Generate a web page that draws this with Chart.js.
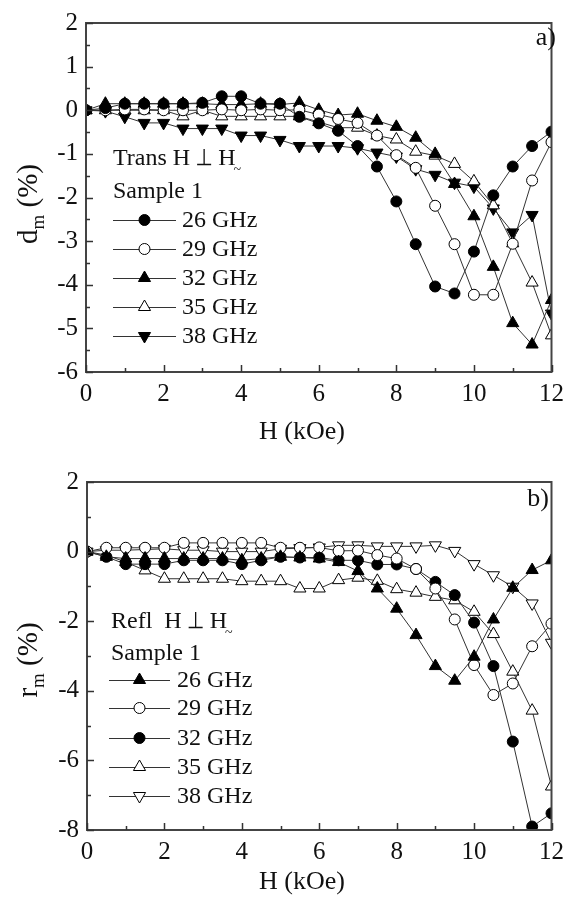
<!DOCTYPE html>
<html>
<head>
<meta charset="utf-8">
<script src="https://cdn.jsdelivr.net/npm/chart.js@4/dist/chart.umd.min.js"></script>
<style>
  html, body { margin: 0; padding: 0; background: #fff; }
  #wrap { position: relative; width: 571px; height: 899px; }
  canvas { position: absolute; left: 0; }
  #chartA { top: 0; }
  #chartB { top: 450px; }
</style>
</head>
<body>
<div id="wrap">
  <canvas id="chartA" width="571" height="450"></canvas>
  <canvas id="chartB" width="571" height="449"></canvas>
</div>
<script>
// field values (kOe), shared by all curves
var fieldH = [0, 0.5, 1, 1.5, 2, 2.5, 3, 3.5, 4, 4.5, 5, 5.5, 6, 6.5, 7, 7.5, 8, 8.5, 9, 9.5, 10, 10.5, 11, 11.5, 12];
var freqLabels = ['26 GHz', '29 GHz', '32 GHz', '35 GHz', '38 GHz'];

// a) transmission d_m (%)
var trans26 = [0, 0.05, 0.15, 0.15, 0.15, 0.15, 0.17, 0.32, 0.32, 0.15, 0.15, -0.15, -0.3, -0.47, -0.82, -1.29, -2.09, -3.07, -4.04, -4.2, -3.24, -1.95, -1.29, -0.82, -0.49];
var trans29 = [0, 0, 0.02, 0.02, 0, 0, 0, 0.02, 0, 0.02, 0, 0.01, -0.1, -0.2, -0.29, -0.58, -1.03, -1.32, -2.19, -3.07, -4.23, -4.23, -3.06, -1.61, -0.73];
var trans32 = [0, 0.15, 0.15, 0.15, 0.15, 0.15, 0.15, 0.13, 0.13, 0.15, 0.13, 0.17, 0.01, -0.11, -0.08, -0.24, -0.38, -0.63, -1.0, -1.69, -2.43, -3.59, -4.88, -5.37, -4.35];
var trans35 = [0, 0, 0, 0, 0, -0.14, 0, -0.14, -0.14, -0.14, -0.14, -0.14, -0.27, -0.4, -0.4, -0.58, -0.67, -0.95, -1.04, -1.23, -1.63, -2.18, -3.05, -3.95, -5.16];
var trans38 = [0, -0.02, -0.15, -0.29, -0.29, -0.42, -0.42, -0.42, -0.58, -0.58, -0.68, -0.82, -0.82, -0.82, -0.87, -0.97, -1.06, -1.35, -1.48, -1.66, -1.75, -2.25, -2.8, -2.4, -4.66];

// b) reflection r_m (%)
var refl26 = [0, -0.15, -0.2, -0.2, -0.2, -0.2, -0.2, -0.2, -0.25, -0.2, -0.15, -0.17, -0.2, -0.3, -0.56, -1.06, -1.64, -2.4, -3.29, -3.71, -3.02, -1.95, -1.04, -0.53, -0.25];
var refl29 = [0, 0.11, 0.11, 0.11, 0.11, 0.25, 0.25, 0.25, 0.25, 0.25, 0.11, 0.11, 0.12, 0.02, 0.03, -0.1, -0.2, -0.5, -1.06, -1.95, -3.26, -4.12, -3.79, -2.72, -2.07];
var refl32 = [0, -0.15, -0.36, -0.36, -0.36, -0.25, -0.25, -0.25, -0.36, -0.25, -0.15, -0.17, -0.17, -0.25, -0.25, -0.37, -0.37, -0.5, -0.87, -1.25, -2.04, -3.29, -5.46, -7.9, -7.52];
var refl35 = [0, -0.1, -0.3, -0.54, -0.78, -0.78, -0.78, -0.78, -0.85, -0.85, -0.85, -1.06, -1.06, -0.82, -0.75, -0.84, -1.08, -1.18, -1.3, -1.4, -1.73, -2.37, -3.45, -4.57, -6.75];
var refl38 = [0, 0.04, 0.04, 0.06, 0.08, 0.04, 0.04, 0, 0, 0, 0.08, 0.1, 0.12, 0.18, 0.18, 0.15, 0.15, 0.15, 0.18, 0.02, -0.36, -0.68, -1.01, -1.49, -2.62];

var SERIF = '"Liberation Serif", "Times New Roman", "DejaVu Serif", serif';
var INK = '#111';
var LINE = '#333';

// marker kinds: filled circle, open circle, filled/open up triangle, down triangle
var markers = {
  dot:   { style: 'circle', r: 5.5, fill: '#000', rot: 0 },
  ring:  { style: 'circle', r: 5.5, fill: '#fff', rot: 0 },
  up:    { style: 'triangle', r: 7, fill: '#000', rot: 0 },
  upo:   { style: 'triangle', r: 7, fill: '#fff', rot: 0 },
  down:  { style: 'triangle', r: 7, fill: '#000', rot: 180 },
  downo: { style: 'triangle', r: 7, fill: '#fff', rot: 180 }
};

function makeSet(label, values, mk) {
  var m = markers[mk];
  var pts = [];
  for (var i = 0; i < fieldH.length; i++) {
    pts.push({ x: fieldH[i], y: values[i] });
  }
  return {
    label: label,
    data: pts,
    borderColor: LINE,
    borderWidth: 1,
    pointStyle: m.style,
    pointRadius: m.r,
    pointRotation: m.rot,
    pointBackgroundColor: m.fill,
    pointBorderColor: '#000',
    pointBorderWidth: 1,
    mk: mk,
    fill: false,
    tension: 0
  };
}

// draw a marker the same way chart.js does (used for the legend)
function drawMarker(ctx, mk, x, y) {
  var m = markers[mk];
  ctx.beginPath();
  if (m.style === 'circle') {
    ctx.arc(x, y, m.r, 0, Math.PI * 2);
  } else {
    var rad = m.rot * Math.PI / 180;
    for (var k = 0; k < 3; k++) {
      var px = x + Math.sin(rad) * m.r;
      var py = y - Math.cos(rad) * m.r;
      if (k === 0) ctx.moveTo(px, py); else ctx.lineTo(px, py);
      rad += Math.PI * 2 / 3;
    }
    ctx.closePath();
  }
  ctx.fillStyle = m.fill;
  ctx.fill();
  ctx.lineWidth = 1;
  ctx.strokeStyle = '#000';
  ctx.stroke();
}

// frame, inward ticks, titles and the in-plot legend
var framePlugin = {
  id: 'frame',
  afterDraw: function (chart) {
    var o = chart.options.plugins.frame;
    var ctx = chart.ctx;
    var a = chart.chartArea;
    var xs = chart.scales.x;
    var ys = chart.scales.y;
    ctx.save();

    // box
    ctx.strokeStyle = '#444';
    ctx.lineWidth = 2;
    ctx.strokeRect(a.left, a.top, a.right - a.left, a.bottom - a.top);

    // ticks on bottom and left, pointing in
    ctx.lineWidth = 1.5;
    ctx.strokeStyle = '#333';
    ctx.beginPath();
    for (var v = xs.min; v <= xs.max + 1e-9; v += 1) {
      var px = Math.round(xs.getPixelForValue(v)) + 0.5;
      var len = (v % 2 === 0) ? 7 : 4;
      ctx.moveTo(px, a.bottom);
      ctx.lineTo(px, a.bottom - len);
    }
    for (var w = ys.min; w <= ys.max + 1e-9; w += o.yMinor) {
      var py = Math.round(ys.getPixelForValue(w)) + 0.5;
      var major = Math.abs(w / o.yMajor - Math.round(w / o.yMajor)) < 1e-6;
      ctx.moveTo(a.left, py);
      ctx.lineTo(a.left + (major ? 7 : 4), py);
    }
    ctx.stroke();

    ctx.fillStyle = INK;
    ctx.textBaseline = 'alphabetic';

    // x title
    ctx.font = '26px ' + SERIF;
    ctx.textAlign = 'center';
    ctx.fillText('H (kOe)', o.xTitleX, o.xTitleY);

    // y title with subscript, rotated
    ctx.save();
    ctx.translate(o.yTitleX, o.yTitleY);
    ctx.rotate(-Math.PI / 2);
    ctx.textAlign = 'left';
    ctx.font = '29px ' + SERIF;
    var wMain = ctx.measureText(o.yLetter).width;
    ctx.font = '19px ' + SERIF;
    var wSub = ctx.measureText('m').width;
    ctx.font = '29px ' + SERIF;
    var wTail = ctx.measureText(' (%)').width;
    var x0 = -(wMain + wSub + wTail) / 2;
    ctx.fillText(o.yLetter, x0, 0);
    ctx.font = '19px ' + SERIF;
    ctx.fillText('m', x0 + wMain, 7);
    ctx.font = '29px ' + SERIF;
    ctx.fillText(' (%)', x0 + wMain + wSub, 0);
    ctx.restore();

    // panel tag
    ctx.font = '26px ' + SERIF;
    ctx.textAlign = 'right';
    ctx.fillText(o.tag, o.tagX, o.tagY);

    // legend header: "<word> H ⊥ H~" with a thin perpendicular sign
    var L = o.legend;
    ctx.textAlign = 'left';
    ctx.font = '24px ' + SERIF;
    var part1 = L.head + 'H ';
    ctx.fillText(part1, L.x, L.headY);
    var cx = L.x + ctx.measureText(part1).width;
    ctx.strokeStyle = INK;
    ctx.lineWidth = 1.3;
    ctx.beginPath();
    ctx.moveTo(cx + 1, L.headY - 0.5);
    ctx.lineTo(cx + 15, L.headY - 0.5);
    ctx.moveTo(cx + 8, L.headY - 0.5);
    ctx.lineTo(cx + 8, L.headY - 16);
    ctx.stroke();
    cx += 16;
    ctx.fillText(' H', cx, L.headY);
    cx += ctx.measureText(' H').width;
    ctx.font = '14px ' + SERIF;
    ctx.fillText('~', cx - 2, L.headY + 9);
    ctx.font = '24px ' + SERIF;
    ctx.fillText('Sample 1', L.x, L.sampleY);

    // legend entries
    chart.data.datasets.forEach(function (ds, i) {
      var cy = L.rowY[i];
      ctx.strokeStyle = LINE;
      ctx.lineWidth = 1;
      ctx.beginPath();
      ctx.moveTo(L.lineX0, cy + 0.5);
      ctx.lineTo(L.lineX1, cy + 0.5);
      ctx.stroke();
      drawMarker(ctx, ds.mk, (L.lineX0 + L.lineX1) / 2, cy);
      ctx.fillStyle = INK;
      ctx.font = '24px ' + SERIF;
      ctx.textBaseline = 'middle';
      ctx.fillText(ds.label, L.textX, cy + 1);
      ctx.textBaseline = 'alphabetic';
    });

    ctx.restore();
  }
};

function makePanel(id, sets, opt) {
  return new Chart(document.getElementById(id), {
    type: 'line',
    data: { datasets: sets },
    plugins: [framePlugin],
    options: {
      responsive: false,
      animation: false,
      layout: { padding: { left: 0, top: opt.top, right: opt.right, bottom: 0 } },
      plugins: {
        legend: { display: false },
        tooltip: { enabled: false },
        frame: opt.frame
      },
      scales: {
        x: {
          type: 'linear',
          min: 0,
          max: 12,
          grid: { display: false, drawTicks: false },
          border: { display: false },
          ticks: {
            stepSize: 2,
            padding: 7,
            color: INK,
            font: { family: SERIF, size: 25 },
            maxRotation: 0
          },
          afterFit: function (s) { s.height = opt.xHeight; }
        },
        y: {
          type: 'linear',
          min: opt.yMin,
          max: opt.yMax,
          grid: { display: false, drawTicks: false },
          border: { display: false },
          ticks: {
            stepSize: opt.frame.yMajor,
            padding: 8,
            color: INK,
            font: { family: SERIF, size: 25 }
          },
          afterFit: function (s) { s.width = opt.yWidth; }
        }
      }
    }
  });
}

var setsA = [
  makeSet(freqLabels[0], trans26, 'dot'),
  makeSet(freqLabels[1], trans29, 'ring'),
  makeSet(freqLabels[2], trans32, 'up'),
  makeSet(freqLabels[3], trans35, 'upo'),
  makeSet(freqLabels[4], trans38, 'down')
];

var setsB = [
  makeSet(freqLabels[0], refl26, 'up'),
  makeSet(freqLabels[1], refl29, 'ring'),
  makeSet(freqLabels[2], refl32, 'dot'),
  makeSet(freqLabels[3], refl35, 'upo'),
  makeSet(freqLabels[4], refl38, 'downo')
];

makePanel('chartA', setsA, {
  top: 19, right: 13, xHeight: 78, yWidth: 86, yMin: -6, yMax: 2,
  frame: {
    yMajor: 1, yMinor: 0.5, yLetter: 'd',
    xTitleX: 302, xTitleY: 439,
    yTitleX: 37, yTitleY: 204,
    tag: 'a)', tagX: 556, tagY: 45,
    legend: {
      head: 'Trans ', x: 113, headY: 165, sampleY: 198,
      lineX0: 113, lineX1: 176, textX: 182,
      rowY: [220, 249, 278, 307, 336]
    }
  }
});

makePanel('chartB', setsB, {
  top: 32, right: 18.5, xHeight: 69, yWidth: 87, yMin: -8, yMax: 2,
  frame: {
    yMajor: 2, yMinor: 1, yLetter: 'r',
    xTitleX: 302, xTitleY: 439,
    yTitleX: 37, yTitleY: 210,
    tag: 'b)', tagX: 549, tagY: 56,
    legend: {
      head: 'Refl  ', x: 111, headY: 178, sampleY: 210,
      lineX0: 109, lineX1: 170, textX: 177,
      rowY: [230, 258, 288, 317, 346]
    }
  }
});
</script>
</body>
</html>
